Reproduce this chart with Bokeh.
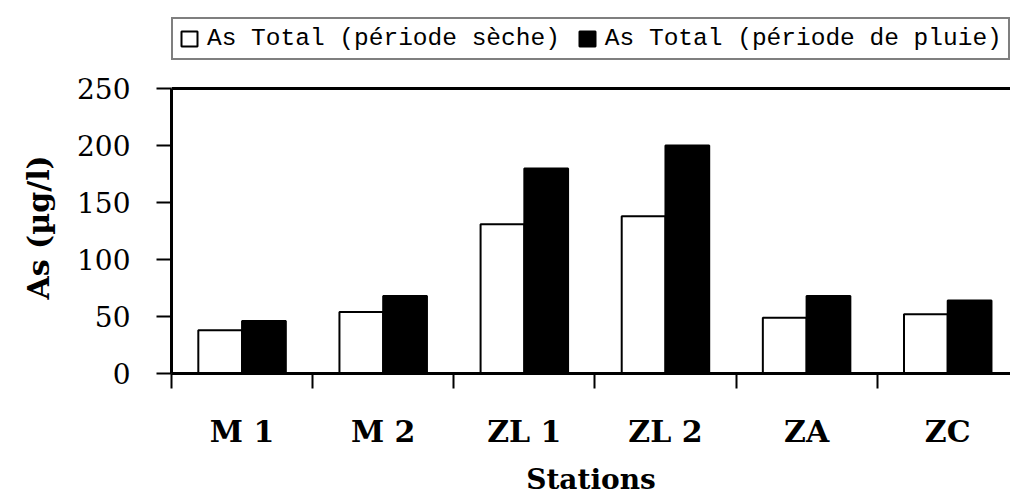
from bokeh.plotting import figure
from bokeh.models import (ColumnDataSource, Range1d, FixedTicker, Legend, LegendItem,
                          Span, Title)
from bokeh.transform import dodge
from bokeh.embed import file_html
from bokeh.resources import INLINE

# ---- data ----
stations = ["M 1", "M 2", "ZL 1", "ZL 2", "ZA", "ZC"]
seche = [38, 54, 131, 138, 49, 52]
pluie = [46, 68, 180, 200, 68, 64]
y_ticks = [0, 50, 100, 150, 200, 250]
y_max = 250
label_seche = "As Total (période sèche)"
label_pluie = "As Total (période de pluie)"

# ---- layout constants (pixels) ----
W, H = 1010, 498
LEFT, TOP, BOTTOM = 170, 8, 121
AXIS_PX = 288            # pixel height of the 0..250 axis
frame_h = H - TOP - BOTTOM
y_end = y_max * frame_h / AXIS_PX
x_end = (W - LEFT) / 141.3

centers = [i + 0.5 for i in range(len(stations))]
bounds = list(range(len(stations) + 1))
src = ColumnDataSource(dict(x=centers, seche=seche, pluie=pluie))

p = figure(width=W, height=H, output_backend="svg", toolbar_location=None,
           x_range=Range1d(0, x_end), y_range=Range1d(0, y_end),
           min_border_left=LEFT, min_border_right=0, min_border_top=TOP,
           min_border_bottom=BOTTOM)
p.background_fill_color = "white"
p.border_fill_color = "white"
p.xgrid.visible = False
p.ygrid.visible = False
p.outline_line_color = None

r1 = p.vbar(x=dodge("x", -0.155, range=p.x_range), top="seche", width=0.31, source=src,
            fill_color="white", line_color="black", line_width=2)
r2 = p.vbar(x=dodge("x", 0.155, range=p.x_range), top="pluie", width=0.31, source=src,
            fill_color="black", line_color="black", line_width=2)

# top border of the plot area
p.add_layout(Span(location=y_max, dimension="width", line_color="black", line_width=3))

# x axis
xa = p.xaxis[0]
xa.ticker = FixedTicker(ticks=centers, minor_ticks=bounds)
xa.major_label_overrides = {c: s for c, s in zip(centers, stations)}
xa.major_tick_out = 0
xa.major_tick_in = 0
xa.minor_tick_out = 15
xa.minor_tick_in = 0
xa.minor_tick_line_width = 2
xa.minor_tick_line_color = "black"
xa.axis_line_width = 3
xa.axis_line_color = "black"
xa.major_label_text_font = "DejaVu Serif"
xa.major_label_text_font_style = "bold"
xa.major_label_text_font_size = "30px"
xa.major_label_text_color = "black"
xa.major_label_standoff = 25
xa.axis_label = "Stations"
xa.axis_label_text_font = "DejaVu Serif"
xa.axis_label_text_font_style = "bold"
xa.axis_label_text_font_size = "28px"
xa.axis_label_text_color = "black"
xa.axis_label_standoff = 11

# y axis
ya = p.yaxis[0]
ya.bounds = (0, y_max)
ya.ticker = FixedTicker(ticks=y_ticks)
ya.major_tick_out = 15
ya.major_tick_in = 0
ya.minor_tick_out = 0
ya.minor_tick_in = 0
ya.major_tick_line_width = 2
ya.major_tick_line_color = "black"
ya.axis_line_width = 3
ya.axis_line_color = "black"
ya.major_label_text_font = "DejaVu Serif"
ya.major_label_text_font_size = "28px"
ya.major_label_text_color = "black"
ya.major_label_standoff = 26

# y axis title, placed along the 0..250 part of the axis
p.add_layout(Title(text="As (µg/l)", align="left", offset=74,
                   text_font="DejaVu Serif", text_font_style="bold",
                   text_font_size="30px", text_color="black", standoff=37), "left")

legend = Legend(items=[LegendItem(label=label_seche, renderers=[r1]),
                       LegendItem(label=label_pluie, renderers=[r2])],
                orientation="horizontal", location=(0, AXIS_PX + 25))
legend.border_line_color = "black"
legend.border_line_width = 2
legend.background_fill_color = "white"
legend.padding = 6
legend.margin = 0
legend.spacing = 17
legend.label_standoff = 8
legend.glyph_width = 20
legend.glyph_height = 19
legend.label_text_font = "Liberation Mono"
legend.label_text_font_size = "24.5px"
legend.label_text_color = "black"
p.add_layout(legend, "center")

open("out.html", "w").write(file_html(p, INLINE))
